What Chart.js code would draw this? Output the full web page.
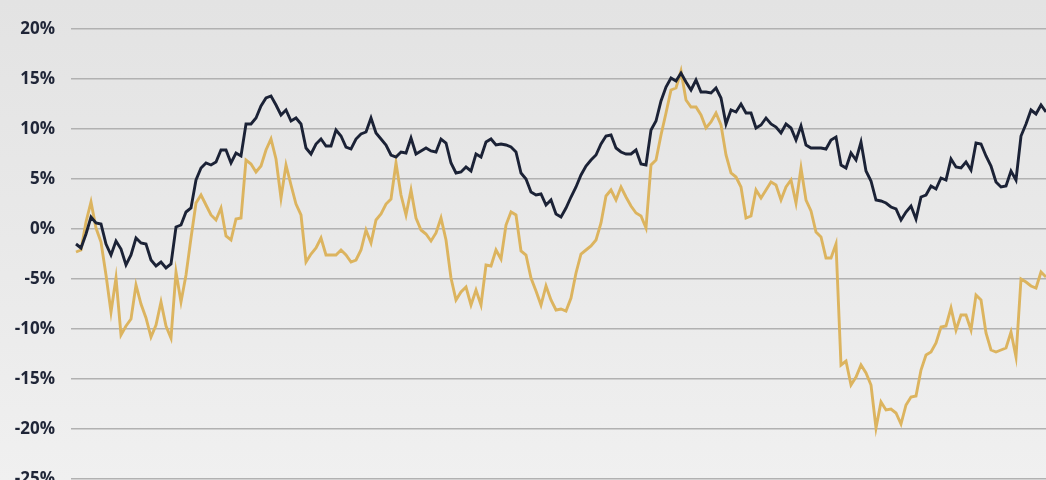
<!DOCTYPE html>
<html>
<head>
<meta charset="utf-8">
<script src="https://cdn.jsdelivr.net/npm/chart.js@4.4.1/dist/chart.umd.min.js"></script>
<style>
  html, body { margin: 0; padding: 0; }
  body {
    width: 1046px;
    height: 480px;
    overflow: hidden;
    background: linear-gradient(to bottom, #e3e3e3 0%, #e9e9e9 50%, #f0f0f0 100%);
  }
  canvas { display: block; }
</style>
</head>
<body>
<canvas id="perfChart" width="1046" height="480"></canvas>
<script>
// cumulative return (%) - dark line
const navySeries = [
  -1.5, -1.9, -0.5, 1.2, 0.6, 0.5, -1.5, -2.6, -1.2, -2.0,
  -3.6, -2.6, -0.9, -1.4, -1.5, -3.1, -3.7, -3.3, -3.9, -3.5,
  0.2, 0.4, 1.7, 2.1, 4.9, 6.1, 6.6, 6.4, 6.7, 7.9,
  7.9, 6.6, 7.6, 7.3, 10.5, 10.5, 11.1, 12.3, 13.1, 13.3,
  12.4, 11.4, 11.9, 10.8, 11.1, 10.5, 8.1, 7.5, 8.5, 9.0,
  8.3, 8.3, 9.9, 9.3, 8.2, 8.0, 9.0, 9.5, 9.7, 11.1,
  9.6, 9.0, 8.4, 7.4, 7.2, 7.7, 7.6, 9.1, 7.5, 7.8,
  8.1, 7.8, 7.7, 9.0, 8.6, 6.6, 5.6, 5.7, 6.2, 5.8,
  7.5, 7.2, 8.7, 9.0, 8.4, 8.5, 8.4, 8.2, 7.7, 5.6,
  5.0, 3.7, 3.4, 3.5, 2.4, 2.9, 1.5, 1.2, 2.1, 3.2,
  4.2, 5.4, 6.3, 6.9, 7.4, 8.5, 9.3, 9.4, 8.1, 7.7,
  7.5, 7.5, 7.9, 6.5, 6.4, 9.9, 10.8, 12.8, 14.2, 15.1,
  14.8, 15.6, 14.7, 13.9, 14.9, 13.7, 13.7, 13.6, 14.1, 13.1,
  10.5, 11.9, 11.7, 12.5, 11.6, 11.6, 10.1, 10.4, 11.1, 10.5,
  10.2, 9.6, 10.5, 10.1, 8.9, 10.3, 8.4, 8.1, 8.1, 8.1,
  8.0, 8.9, 9.2, 6.4, 6.1, 7.6, 6.9, 8.7, 5.8, 4.8,
  2.9, 2.8, 2.6, 2.2, 2.0, 0.9, 1.7, 2.3, 1.0, 3.2,
  3.4, 4.3, 4.0, 5.1, 4.9, 7.0, 6.2, 6.1, 6.7, 5.9,
  8.6, 8.5, 7.3, 6.3, 4.7, 4.2, 4.3, 5.8, 4.9, 9.3,
  10.5, 11.9, 11.5, 12.4, 11.7
];

// cumulative return (%) - gold line
const goldSeries = [
  -2.3, -2.1, 0.7, 2.7, 0.1, -1.3, -4.6, -8.3, -4.9, -10.6,
  -9.7, -9.0, -5.6, -7.5, -8.9, -10.8, -9.6, -7.3, -9.7, -10.9,
  -4.3, -7.3, -4.6, -0.9, 2.6, 3.4, 2.4, 1.4, 0.9, 2.1,
  -0.7, -1.1, 1.0, 1.1, 6.9, 6.5, 5.7, 6.3, 7.9, 9.0,
  7.0, 3.1, 6.4, 4.4, 2.5, 1.4, -3.3, -2.5, -1.9, -0.9,
  -2.6, -2.6, -2.6, -2.1, -2.6, -3.3, -3.1, -2.1, -0.1, -1.4,
  0.9, 1.5, 2.5, 3.0, 6.6, 3.4, 1.4, 3.9, 1.1, -0.1,
  -0.5, -1.2, -0.4, 1.1, -1.1, -4.9, -7.1, -6.3, -5.8, -7.6,
  -6.1, -7.6, -3.6, -3.7, -2.1, -3.0, 0.4, 1.7, 1.4, -2.2,
  -2.6, -4.9, -6.2, -7.6, -5.7, -7.1, -8.1, -8.0, -8.2, -6.9,
  -4.4, -2.5, -2.1, -1.7, -1.1, 0.6, 3.3, 3.9, 2.9, 4.2,
  3.2, 2.3, 1.6, 1.3, 0.1, 6.4, 6.9, 9.4, 11.6, 13.9,
  14.1, 15.8, 12.9, 12.2, 12.2, 11.4, 10.1, 10.7, 11.6, 10.4,
  7.4, 5.6, 5.2, 4.2, 1.1, 1.3, 3.9, 3.1, 3.9, 4.7,
  4.4, 2.9, 4.2, 4.9, 2.6, 6.1, 2.9, 1.8, -0.3, -0.8,
  -2.9, -2.9, -1.5, -13.6, -13.2, -15.6, -14.8, -13.6, -14.4, -15.6,
  -19.9, -17.3, -18.1, -18.0, -18.4, -19.5, -17.6, -16.8, -16.7, -14.1,
  -12.6, -12.3, -11.4, -9.8, -9.7, -7.9, -10.1, -8.6, -8.6, -10.1,
  -6.6, -7.1, -10.4, -12.1, -12.3, -12.1, -11.9, -10.3, -12.8, -5.0,
  -5.3, -5.7, -5.9, -4.3, -4.8
];

const yTicks = [20, 15, 10, 5, 0, -5, -10, -15, -20, -25];

const days = navySeries.map((_, i) => i);

const ctx = document.getElementById("perfChart").getContext("2d");

const perfChart = new Chart(ctx, {
  type: "line",
  data: {
    labels: days,
    datasets: [
      {
        data: days.map((d, i) => ({ x: d, y: navySeries[i] })),
        borderColor: "#1b2236",
        borderWidth: 2.9,
        pointRadius: 0,
        tension: 0,
        fill: false,
        order: 0,
      },
      {
        data: days.map((d, i) => ({ x: d, y: goldSeries[i] })),
        borderColor: "#dcb45f",
        borderWidth: 2.9,
        pointRadius: 0,
        tension: 0,
        fill: false,
        order: 1,
      },
    ],
  },
  options: {
    responsive: false,
    maintainAspectRatio: false,
    animation: false,
    layout: { padding: { top: 29, bottom: 1, left: 0, right: 0 } },
    plugins: {
      legend: { display: false },
      tooltip: { enabled: false },
    },
    scales: {
      x: {
        type: "linear",
        display: false,
        min: -1,
        max: days.length - 1,
      },
      y: {
        min: Math.min(...yTicks),
        max: Math.max(...yTicks),
        afterBuildTicks: (scale) => {
          scale.ticks = yTicks.map((v) => ({ value: v }));
        },
        afterFit: (scale) => {
          scale.width = 71;
          scale.paddingTop = 0;
          scale.paddingBottom = 0;
        },
        border: { display: false },
        grid: {
          color: "#b1b1b1",
          lineWidth: 1.4,
          drawTicks: false,
        },
        ticks: {
          padding: 16,
          color: "#1f2537",
          font: { family: "'Open Sans'", size: 17, weight: "bold" },
          callback: (val) => val + "%",
        },
      },
    },
  },
});
</script>
</body>
</html>
